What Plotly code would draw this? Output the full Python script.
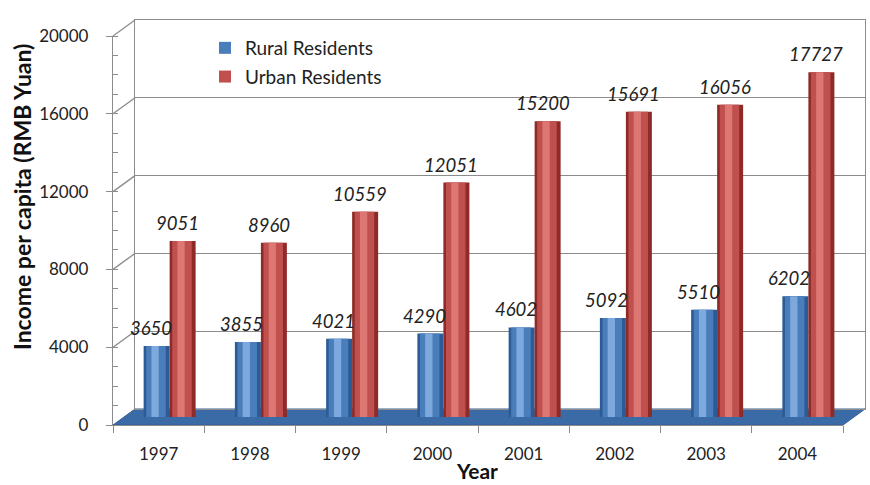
import plotly.graph_objects as go

# ---------------- data ----------------
years = ["1997", "1998", "1999", "2000", "2001", "2002", "2003", "2004"]
rural = [3650, 3855, 4021, 4290, 4602, 5092, 5510, 6202]
urban = [9051, 8960, 10559, 12051, 15200, 15691, 16056, 17727]
y_ticks = [0, 4000, 8000, 12000, 16000, 20000]
series_names = ["Rural Residents", "Urban Residents"]

# ---------------- geometry (pixels) ----------------
W, H = 870, 485
ML, MR, MT, MB = 113, 5, 20, 60
PW, PH = W - ML - MR, H - MT - MB
FRONT_L, FRONT_R, FRONT_T, FRONT_B = 113, 843, 36, 425
DEPTH_X, DEPTH_Y = 22, 16
YMAX = 20000
FONT = "Lato"


def px_x(p):
    return (p - ML) / PW


def px_y(p):
    return (H - MB - p) / PH


def dom(shift_x, shift_y):
    xd = [px_x(FRONT_L + shift_x), min(1.0, px_x(FRONT_R + shift_x))]
    yd = [px_y(FRONT_B - shift_y), min(1.0, px_y(FRONT_T - shift_y))]
    return xd, yd


back_x, back_y = dom(DEPTH_X, DEPTH_Y)
mid_x, mid_y = dom(DEPTH_X / 2, DEPTH_Y / 2)
front_x, front_y = dom(0, 0)

BAR_W = 26 / ((FRONT_R - FRONT_L) / len(years))

palettes = {
    "Rural Residents": ("#2d5b95", "#4a7ebb", "#7ea9de"),
    "Urban Residents": ("#8e2b28", "#c0504d", "#dc7774"),
}

fig = go.Figure()

# back wall subplot (x / y) - gridlines only
fig.add_trace(go.Scatter(x=years, y=urban, xaxis="x", yaxis="y", mode="markers",
                         marker=dict(opacity=0), showlegend=False, hoverinfo="skip"))

# bars on mid-depth subplot (x2 / y2)
for name, vals, off in [(series_names[0], rural, -BAR_W), (series_names[1], urban, 0.0)]:
    dark, main, light = palettes[name]
    layers = [(0.0, 1.0, dark, False), (0.1, 0.75, main, True), (0.3, 0.28, light, False)]
    for lo, lw, col, show in layers:
        fig.add_trace(go.Bar(
            x=years, y=vals, xaxis="x2", yaxis="y2", name=name,
            offset=off + lo * BAR_W, width=lw * BAR_W,
            marker=dict(color=col, line=dict(width=0)),
            showlegend=show, legendgroup=name, hoverinfo="skip" if not show else None,
        ))

# front axes subplot (x3 / y3)
fig.add_trace(go.Scatter(x=years, y=rural, xaxis="x3", yaxis="y3", mode="markers",
                         marker=dict(opacity=0), showlegend=False, hoverinfo="skip"))

GRID = "#8c8c8c"
tickfont = dict(family=FONT, size=17, color="#222222")
hidden = dict(showgrid=False, showticklabels=False, ticks="", zeroline=False, showline=False)

fig.update_layout(
    width=W, height=H,
    margin=dict(l=ML, r=MR, t=MT, b=MB),
    paper_bgcolor="white", plot_bgcolor="rgba(0,0,0,0)",
    barmode="overlay",
    font=dict(family=FONT, color="#222222"),
    xaxis=dict(domain=back_x, type="category", categoryarray=years, range=[-0.5, 7.5],
               showgrid=False, showticklabels=False, ticks="", zeroline=False,
               showline=True, mirror=True, linecolor=GRID, linewidth=1.3),
    yaxis=dict(domain=back_y, range=[0, YMAX], tickvals=y_ticks, showgrid=True,
               gridcolor=GRID, gridwidth=1.3, showticklabels=False, ticks="",
               zeroline=False, showline=True, mirror=True, linecolor=GRID, linewidth=1.3,
               anchor="x"),
    xaxis2=dict(domain=mid_x, type="category", categoryarray=years, range=[-0.5, 7.5],
                anchor="y2", **hidden),
    yaxis2=dict(domain=mid_y, range=[0, YMAX], anchor="x2", **hidden),
    xaxis3=dict(domain=front_x, type="category", categoryarray=years, range=[-0.5, 7.5],
                anchor="y3", showgrid=False, showline=True, linecolor=GRID, linewidth=1.3,
                ticks="outside", tickson="boundaries", ticklen=7, tickcolor=GRID,
                tickwidth=1.3, tickfont=tickfont, ticklabelstandoff=13),
    yaxis3=dict(domain=front_y, range=[0, YMAX], tickvals=y_ticks, tickformat="d",
                anchor="x3", showgrid=False, zeroline=False, showline=True,
                linecolor=GRID, linewidth=1.3,
                ticks="outside", ticklen=6, tickcolor=GRID, tickwidth=1.3,
                tickfont=tickfont, ticklabelstandoff=14,
                minor=dict(dtick=1000, ticks="inside", ticklen=5, tickcolor=GRID,
                           tickwidth=1.3, showgrid=False)),
    legend=dict(x=px_x(205), y=px_y(29), xanchor="left", yanchor="top",
                bgcolor="rgba(0,0,0,0)", font=dict(family=FONT, size=19, color="#222222"),
                tracegroupgap=1, itemclick=False),
)

# floor slab and side-wall lines (decoration)
floor = (f"M {px_x(FRONT_L)},{px_y(FRONT_B)} L {px_x(FRONT_R)},{px_y(FRONT_B)} "
         f"L {px_x(FRONT_R + DEPTH_X)},{px_y(FRONT_B - DEPTH_Y)} "
         f"L {px_x(FRONT_L + DEPTH_X)},{px_y(FRONT_B - DEPTH_Y)} Z")
shapes = [dict(type="path", path=floor, xref="paper", yref="paper",
               fillcolor="#3b6ba7", line=dict(color="#345f96", width=1), layer="below")]
for v in y_ticks[1:]:
    yf = front_y[0] + v / YMAX * (front_y[1] - front_y[0])
    yb = back_y[0] + v / YMAX * (back_y[1] - back_y[0])
    shapes.append(dict(type="line", xref="paper", yref="paper", x0=front_x[0], y0=yf,
                       x1=back_x[0], y1=yb, line=dict(color=GRID, width=1.3), layer="below"))
fig.update_layout(shapes=shapes)

# value labels (category axes take the category index for annotations)
ann = []
for vals, xs in [(rural, -19), (urban, 8)]:
    for i, v in enumerate(vals):
        ann.append(dict(x=i, y=v, xref="x2", yref="y2", text=str(v), showarrow=False,
                        xshift=xs, yshift=18, xanchor="center", yanchor="middle",
                        font=dict(family=FONT, size=18.5, color="#222222", style="italic")))
ann.append(dict(x=px_x(477), y=px_y(470), xref="paper", yref="paper", text="<b>Year</b>",
                xanchor="center", yanchor="middle",
                showarrow=False, font=dict(family=FONT, size=21, color="#111111")))
ann.append(dict(x=px_x(22), y=px_y(197), xref="paper", yref="paper",
                xanchor="center", yanchor="middle",
                text="<b>Income per capita (RMB Yuan)</b>", textangle=-90, showarrow=False,
                font=dict(family=FONT, size=23, color="#111111")))
fig.update_layout(annotations=ann)

fig.write_html("out.html")
